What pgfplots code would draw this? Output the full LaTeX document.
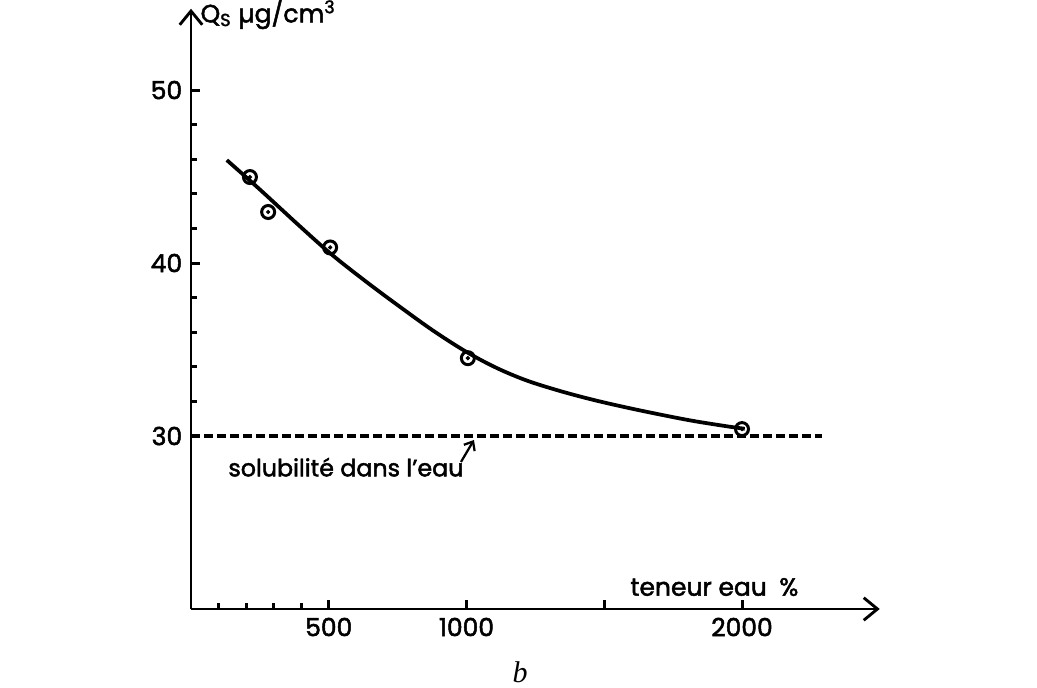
\documentclass[border=0pt]{standalone}
\usepackage{fontspec}
\setmainfont{Poppins}
\newfontfamily\lettering{Poppins}[FakeBold=2]
\newfontfamily\seriffont{Liberation Serif}
\usepackage{pgfplots}
\usepackage{pgfplotstable}
\pgfplotsset{compat=1.18}
\usetikzlibrary{arrows.meta}

\pgfplotstableread{
x y
214 44.97
280 42.95
505 40.9
1005 34.5
2000 30.4
}\points

\pgfplotstableread{
x y
130 45.95
250 44.25
390 42.2
510 40.5
640 38.87
760 37.45
880 36.08
1000 34.86
1110 33.93
1220 33.2
1340 32.6
1460 32.09
1580 31.65
1700 31.25
1820 30.88
1950 30.55
2010 30.42
}\curve

\begin{document}
\begin{tikzpicture}
\useasboundingbox (0,0) rectangle (414.8pt,275.2pt);
\begin{axis}[
  at={(76.4pt,31.6pt)}, anchor=south west,
  scale only axis, width=275.5pt, height=240.1pt,
  xmin=0, xmax=2500, ymin=20, ymax=54.7,
  axis lines=left,
  axis line style={line width=1.15pt, -{Straight Barb[length=5.5pt,width=9pt,line width=1.15pt]}},
  tick align=inside,
  tick style={line width=1.2pt, black},
  major tick length=3.5pt,
  minor tick length=2.4pt,
  xtick={500,1000,1500,2000},
  xticklabels={500,1000,{},2000},
  minor xtick={100,200,300,400},
  ytick={30,40,50},
  minor ytick={32,34,36,38,42,44,46,48},
  /pgf/number format/assume math mode=true,
  ticklabel style={font=\lettering\fontsize{10}{12}\selectfont},
  clip=false,
]
\addplot[black, line width=1.5pt, smooth, tension=0.55] table[x=x,y=y] {\curve};
\addplot[black, line width=1.25pt, dash pattern=on 3.4pt off 1.8pt] coordinates {(0,30) (2290,30)};
\addplot[only marks, mark=o, mark size=2.6pt, mark options={line width=1.2pt, black, fill=white}] table[x=x,y=y] {\points};
\addplot[only marks, mark=*, mark size=0.65pt, black] table[x=x,y=y] {\points};
\node[anchor=west, font=\lettering\fontsize{10}{12}\selectfont, inner sep=0pt] at (axis cs:33,54.4) {Q\textsubscript{S} µg/cm\textsuperscript{3}};
\node[anchor=west, font=\lettering\fontsize{10}{12}\selectfont, inner sep=0pt] at (axis cs:1593,21.27) {teneur eau\enspace\%};
\node[anchor=west, font=\lettering\fontsize{9.5}{12}\selectfont, inner sep=0pt] at (axis cs:134,28.2) {solubilité dans l’eau};
\draw[line width=0.9pt, -{Straight Barb[length=3pt,width=5pt]}] (axis cs:980,28.5) -- (axis cs:1027,29.77);
\end{axis}
\node[font=\seriffont\itshape\fontsize{12}{14}\selectfont] at (208pt,6.4pt) {b};
\end{tikzpicture}
\end{document}
